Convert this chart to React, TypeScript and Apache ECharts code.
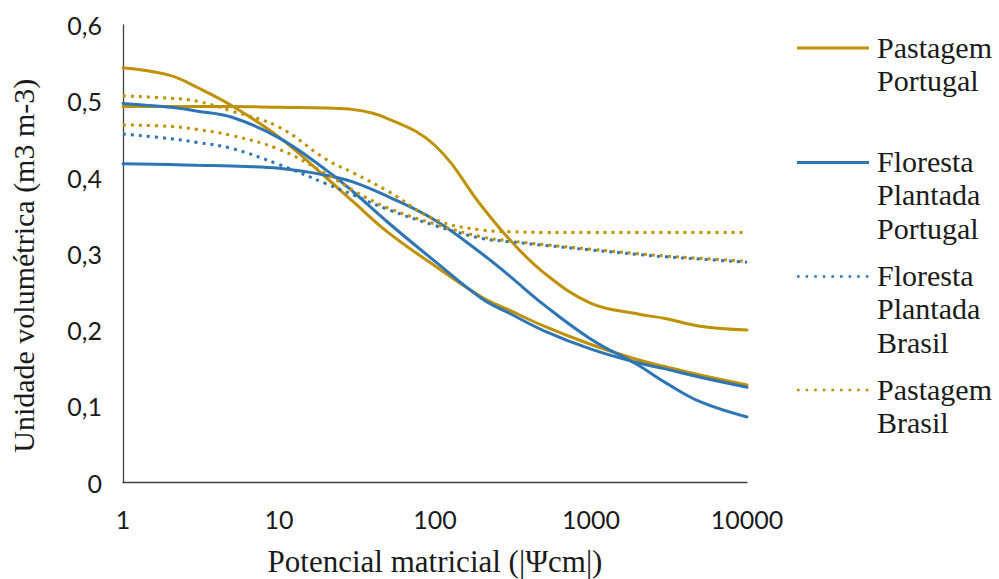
import React, { useEffect, useRef } from "react";
import * as echarts from "echarts";

// ---- data ----
const xValues = [1, 2, 3, 5, 10, 20, 30, 50, 100, 200, 300, 500, 1000, 2000, 3000, 5000, 10000];
const xTickLabels = ["1", "10", "100", "1000", "10000"];
const yTickLabels = ["0", "0,1", "0,2", "0,3", "0,4", "0,5", "0,6"];
const legendNames = ["Pastagem Portugal", "Floresta Plantada Portugal", "Floresta Plantada Brasil", "Pastagem Brasil"];

const pastagemPortugalA = [0.544, 0.534, 0.518, 0.494, 0.453, 0.400, 0.368, 0.328, 0.284, 0.243, 0.226, 0.205, 0.181, 0.161, 0.152, 0.141, 0.128];
const pastagemPortugalB = [0.493, 0.493, 0.493, 0.493, 0.492, 0.491, 0.489, 0.477, 0.442, 0.362, 0.319, 0.275, 0.235, 0.221, 0.215, 0.205, 0.200];
const florestaPortugalA = [0.497, 0.492, 0.487, 0.479, 0.452, 0.410, 0.381, 0.341, 0.290, 0.241, 0.222, 0.199, 0.175, 0.157, 0.149, 0.138, 0.125];
const florestaPortugalB = [0.418, 0.417, 0.416, 0.415, 0.412, 0.403, 0.394, 0.375, 0.344, 0.300, 0.271, 0.233, 0.188, 0.154, 0.131, 0.106, 0.086];
const florestaBrasil = [0.457, 0.451, 0.446, 0.438, 0.417, 0.392, 0.377, 0.358, 0.337, 0.320, 0.316, 0.311, 0.305, 0.299, 0.296, 0.293, 0.289];
const pastagemBrasilA = [0.507, 0.504, 0.500, 0.487, 0.466, 0.424, 0.406, 0.382, 0.345, 0.331, 0.329, 0.328, 0.328, 0.328, 0.328, 0.328, 0.328];
const pastagemBrasilB = [0.469, 0.467, 0.463, 0.455, 0.437, 0.405, 0.383, 0.360, 0.339, 0.322, 0.317, 0.312, 0.306, 0.300, 0.297, 0.294, 0.290];

// ---- styles ----
const GOLD = "#BF9000";
const BLUE = "#2E75B6";
const DOT = [3, 5];
const SANS = "Lato, sans-serif";
const SERIF = "Liberation Serif, serif";
const TEXT = "#1a1a1a";

const legendStyles = [
  { color: GOLD, dash: null as number[] | null },
  { color: BLUE, dash: null },
  { color: BLUE, dash: [2.6, 6] },
  { color: GOLD, dash: [2.6, 6] },
];
const legendIconY = [48, 162.5, 276.5, 390];

const pair = (ys: number[]) => xValues.map((x, i) => [x, ys[i]]);

export default function App() {
  const ref = useRef<HTMLDivElement>(null);
  useEffect(() => {
    if (!ref.current) return;
    const chart = echarts.init(ref.current, null, { renderer: "svg" });

    const mk = (name: string, ys: number[], color: string, dotted: boolean) => ({
      name,
      type: "line",
      data: pair(ys),
      smooth: 0.4,
      showSymbol: false,
      symbol: "none",
      lineStyle: dotted ? { color, width: 3, type: DOT } : { color, width: 3, cap: "round" },
      itemStyle: { color },
      emphasis: { disabled: true },
    });

    const graphics: any[] = [];
    legendNames.forEach((name, i) => {
      const st = legendStyles[i];
      const y = legendIconY[i];
      graphics.push({
        type: "line",
        shape: { x1: 797, y1: y, x2: 869, y2: y },
        style: {
          stroke: st.color,
          lineWidth: st.dash ? 2.6 : 3,
          lineDash: st.dash || undefined,
        },
      });
      name.split(" ").forEach((word, k) => {
        graphics.push({
          type: "text",
          x: 877,
          y: y - 1 + k * 33.3,
          style: {
            text: word,
            font: `30px ${SERIF}`,
            fill: TEXT,
            align: "left",
            verticalAlign: "middle",
          },
        });
      });
    });

    chart.setOption({
      animation: false,
      backgroundColor: "#fff",
      grid: { left: 123, right: 252, top: 25, bottom: 96.5, outerBoundsMode: "none" },
      xAxis: {
        type: "log",
        logBase: 10,
        min: 1,
        max: 10000,
        name: "Potencial matricial (|Ψcm|)",
        nameLocation: "middle",
        nameGap: 63,
        nameTextStyle: { fontFamily: SERIF, fontSize: 31, color: TEXT },
        axisLine: { lineStyle: { color: "#404040", width: 1.3 } },
        axisTick: { show: false },
        splitLine: { show: false },
        minorTick: { show: false },
        axisLabel: {
          margin: 24,
          fontFamily: SANS,
          fontSize: 25,
          color: TEXT,
          formatter: (v: number) => xTickLabels[Math.round(Math.log10(v))] ?? "",
        },
      },
      yAxis: {
        type: "value",
        min: 0,
        max: 0.6,
        interval: 0.1,
        name: "Unidade volumétrica (m3 m-3)",
        nameLocation: "middle",
        nameRotate: 90,
        nameGap: 85,
        nameTextStyle: { fontFamily: SERIF, fontSize: 30, color: TEXT, padding: [0, 24, 0, 0] },
        axisLine: { show: true, lineStyle: { color: "#404040", width: 1.3 } },
        axisTick: { show: false },
        splitLine: { show: false },
        axisLabel: {
          margin: 21,
          fontFamily: SANS,
          fontSize: 25,
          color: TEXT,
          formatter: (v: number) => yTickLabels[Math.round(v * 10)] ?? "",
        },
      },
      series: [
        mk(legendNames[0], pastagemPortugalA, GOLD, false),
        mk(legendNames[0], pastagemPortugalB, GOLD, false),
        mk(legendNames[1], florestaPortugalA, BLUE, false),
        mk(legendNames[1], florestaPortugalB, BLUE, false),
        mk(legendNames[2], florestaBrasil, BLUE, true),
        mk(legendNames[3], pastagemBrasilA, GOLD, true),
        mk(legendNames[3], pastagemBrasilB, GOLD, true),
      ],
      graphic: graphics,
    });
    return () => chart.dispose();
  }, []);
  return (
    <div
      ref={ref}
      style={{ position: "fixed", left: 0, top: 0, width: 999, height: 579, background: "#fff" }}
    />
  );
}
